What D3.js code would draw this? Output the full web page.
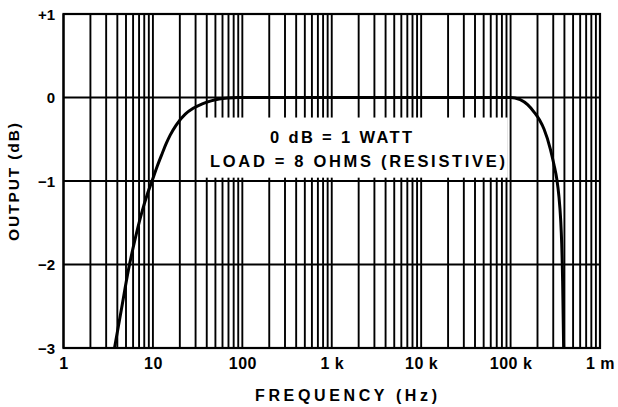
<!DOCTYPE html>
<html><head><meta charset="utf-8">
<script src="https://cdn.jsdelivr.net/npm/d3@7"></script>
<style>
html,body{margin:0;padding:0;background:#fff;}
svg{display:block;}
text{font-family:"Liberation Sans",Arial,Helvetica,sans-serif;font-weight:bold;fill:#000;}
</style></head>
<body>
<svg id="chart" width="618" height="407"></svg>
<script>
// ---- data ----
const freqHz = [3.72, 4.47, 5.31, 6.31, 7.41, 8.71, 10, 11.2, 12.7, 14.1, 15.6, 18.2, 23, 28.2, 35.7, 44.7, 55, 70.8, 89,
  1e3, 1e4, 1e5, 112e3, 128e3, 155e3, 185e3, 211e3, 237e3, 279e3, 305e3, 329e3, 347e3, 363e3, 373e3, 382e3, 387e3, 392e3];
const outputDb = [-3.0, -2.52, -2.07, -1.70, -1.40, -1.15, -0.97, -0.82, -0.67, -0.55, -0.45, -0.33, -0.20, -0.13, -0.075, -0.04, -0.017, -0.005, 0,
  0, 0, 0, -0.005, -0.025, -0.085, -0.18, -0.27, -0.38, -0.62, -0.80, -0.98, -1.18, -1.46, -1.75, -2.2, -2.6, -3.0];
const xTickValues = [1, 10, 100, 1e3, 1e4, 1e5, 1e6];
const xTickLabels = ["1", "10", "100", "1 k", "10 k", "100 k", "1 m"];
const yTickValues = [1, 0, -1, -2, -3];
const yTickLabels = ["+1", "0", "\u22121", "\u22122", "\u22123"];
const noteLines = ["0 dB = 1 WATT", "LOAD = 8 OHMS (RESISTIVE)"];
const xTitle = "FREQUENCY (Hz)";
const yTitle = "OUTPUT (dB)";

// ---- layout ----
const L = 63.5, R = 600, T = 14, B = 348;
const svg = d3.select("#chart");
const x = d3.scaleLog().domain([1, 1e6]).range([L, R]);
const y = d3.scaleLinear().domain([-3, 1]).range([B, T]);

const gridX = [];
for (let d = 0; d < 6; d++) for (let k = 1; k <= 9; k++) gridX.push(k * Math.pow(10, d));
gridX.push(1e6);

const g = svg.append("g");
g.selectAll("line.v").data(gridX).enter().append("line")
  .attr("class", "v")
  .attr("x1", d => x(d)).attr("x2", d => x(d))
  .attr("y1", T).attr("y2", B)
  .attr("stroke", "#000").attr("stroke-width", 1.9);

g.selectAll("line.h").data(yTickValues).enter().append("line")
  .attr("class", "h")
  .attr("x1", L).attr("x2", R)
  .attr("y1", d => y(d)).attr("y2", d => y(d))
  .attr("stroke", "#000").attr("stroke-width", 1.9);

g.append("rect").attr("x", L).attr("y", T).attr("width", R - L).attr("height", B - T)
  .attr("fill", "none").attr("stroke", "#000").attr("stroke-width", 2.2);

// white note box
svg.append("rect")
  .attr("x", x(32)).attr("y", y(-0.24))
  .attr("width", x(9.3e4) - x(32)).attr("height", y(-0.96) - y(-0.24))
  .attr("fill", "#fff");

svg.append("text").attr("x", 341).attr("y", 142.5).attr("text-anchor", "middle")
  .attr("font-size", 16.5).attr("textLength", 142).attr("lengthAdjust", "spacing")
  .text(noteLines[0]);
svg.append("text").attr("x", 357.5).attr("y", 167).attr("text-anchor", "middle")
  .attr("font-size", 16.5).attr("textLength", 295).attr("lengthAdjust", "spacing")
  .text(noteLines[1]);

// curve
const pts = freqHz.map((f, i) => [x(f), y(outputDb[i])]);
svg.append("path").datum(pts)
  .attr("d", d3.line().curve(d3.curveMonotoneX))
  .attr("fill", "none").attr("stroke", "#000").attr("stroke-width", 3);

// axes
const xAxis = d3.axisBottom(x).tickValues(xTickValues)
  .tickFormat((d, i) => xTickLabels[i]).tickSize(0).tickPadding(0);
const xa = svg.append("g").attr("transform", `translate(0,${B})`).call(xAxis);
xa.select(".domain").remove();
xa.selectAll("text").attr("font-size", 16).attr("dy", null).attr("y", 21)
  .attr("letter-spacing", 0.5)
  .style("font-family", "'Liberation Sans',Arial,sans-serif").style("font-weight", "bold");

const yAxis = d3.axisLeft(y).tickValues(yTickValues)
  .tickFormat((d, i) => yTickLabels[i]).tickSize(0).tickPadding(0);
const ya = svg.append("g").attr("transform", `translate(55,0)`).call(yAxis);
ya.select(".domain").remove();
ya.selectAll("text").attr("font-size", 15).attr("x", 0).attr("dy", "0.36em")
  .style("font-family", "'Liberation Sans',Arial,sans-serif").style("font-weight", "bold");

// titles
svg.append("text").attr("x", 346).attr("y", 401).attr("text-anchor", "middle")
  .attr("font-size", 16).attr("textLength", 182).attr("lengthAdjust", "spacing")
  .text(xTitle);
svg.append("text").attr("transform", "translate(19,182) rotate(-90)")
  .attr("text-anchor", "middle")
  .attr("font-size", 15.5).attr("textLength", 118).attr("lengthAdjust", "spacing")
  .text(yTitle);
</script>
</body></html>
